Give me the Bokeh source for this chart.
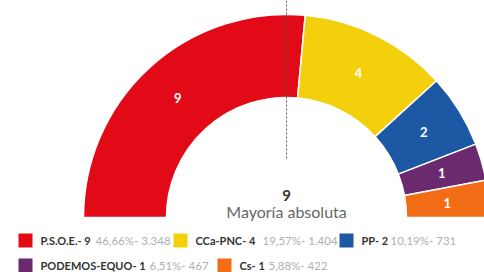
import math
from bokeh.plotting import figure
from bokeh.models import Range1d, ColumnDataSource
from bokeh.core.properties import value
from bokeh.embed import file_html
from bokeh.resources import INLINE

# ---- data ----
parties = ["P.S.O.E.", "CCa-PNC", "PP", "PODEMOS-EQUO", "Cs"]
seats = [9, 4, 2, 1, 1]
percents = ["46,66%", "19,57%", "10,19%", "6,51%", "5,88%"]
votes = ["3.348", "1.404", "731", "467", "422"]
colors = ["#e30a17", "#f4d00c", "#1d58a5", "#6b2a6e", "#f36c16"]
majority = 9
majority_label = "Mayoría absoluta"

# ---- layout (pixel-like data space: x = px, y = 272 - px) ----
W, H = 484, 272
CX, CY = 286, 272 - 217
R_OUT, R_IN = 203, 120

p = figure(width=W, height=H, x_range=Range1d(0, W), y_range=Range1d(0, H),
           output_backend="svg", toolbar_location=None, min_border=0)
p.axis.visible = False
p.grid.visible = False
p.outline_line_color = None
p.background_fill_color = "white"
p.border_fill_color = "white"

total = sum(seats)
starts, ends, mids = [], [], []
cum = 0
for s in seats:
    a_end = math.pi * (1 - cum / total)
    cum += s
    a_start = math.pi * (1 - cum / total)
    starts.append(a_start)
    ends.append(a_end)
    mids.append((a_start + a_end) / 2)

src = ColumnDataSource(dict(start=starts, end=ends, color=colors,
                            lx=[CX + (R_OUT + R_IN) / 2 * math.cos(m) for m in mids],
                            ly=[CY + (R_OUT + R_IN) / 2 * math.sin(m) for m in mids],
                            lab=[str(s) for s in seats]))
p.annular_wedge(x=CX, y=CY, inner_radius=R_IN, outer_radius=R_OUT,
                start_angle="start", end_angle="end", fill_color="color",
                line_color="white", line_width=1.5, source=src)
p.text(x="lx", y="ly", text="lab", source=src, text_color="white",
       text_font=value("Lato"), text_font_style="bold", text_font_size="13px",
       text_align="center", text_baseline="middle")

# majority dashed line
p.segment(x0=CX, y0=272 - 158, x1=CX, y1=H, line_color="#555555",
          line_width=1, line_dash="2 2")

p.text(x=[CX], y=[272 - 195], text=[str(majority)], text_color="#333333",
       text_font=value("Lato"), text_font_style="bold", text_font_size="15px",
       text_align="center", text_baseline="middle")
p.text(x=[CX], y=[272 - 211], text=[majority_label], text_color="#666666",
       text_font=value("Lato"), text_font_size="16px",
       text_align="center", text_baseline="middle")

# legend
sq_x = [18, 173, 339, 18, 217]
row_y = [240, 240, 240, 265, 265]
pct_x = [95, 262, 390, 149, 268]
lsrc = ColumnDataSource(dict(
    sx=[x + 7 for x in sq_x], y=[272 - y for y in row_y], color=colors,
    nx=[x + 22 for x in sq_x],
    name=[f"{pa}- {s}" for pa, s in zip(parties, seats)],
    px=pct_x,
    pct=[f"{pc}- {v}" for pc, v in zip(percents, votes)]))
p.rect(x="sx", y="y", width=14, height=14, fill_color="color", line_color=None, source=lsrc)
p.text(x="nx", y="y", text="name", source=lsrc, text_color="#333333",
       text_font=value("Lato"), text_font_style="bold", text_font_size="11px",
       text_align="left", text_baseline="middle")
p.text(x="px", y="y", text="pct", source=lsrc, text_color="#b0b0b0",
       text_font=value("Lato"), text_font_size="11.5px",
       text_align="left", text_baseline="middle")

open("out.html", "w").write(file_html(p, INLINE))
